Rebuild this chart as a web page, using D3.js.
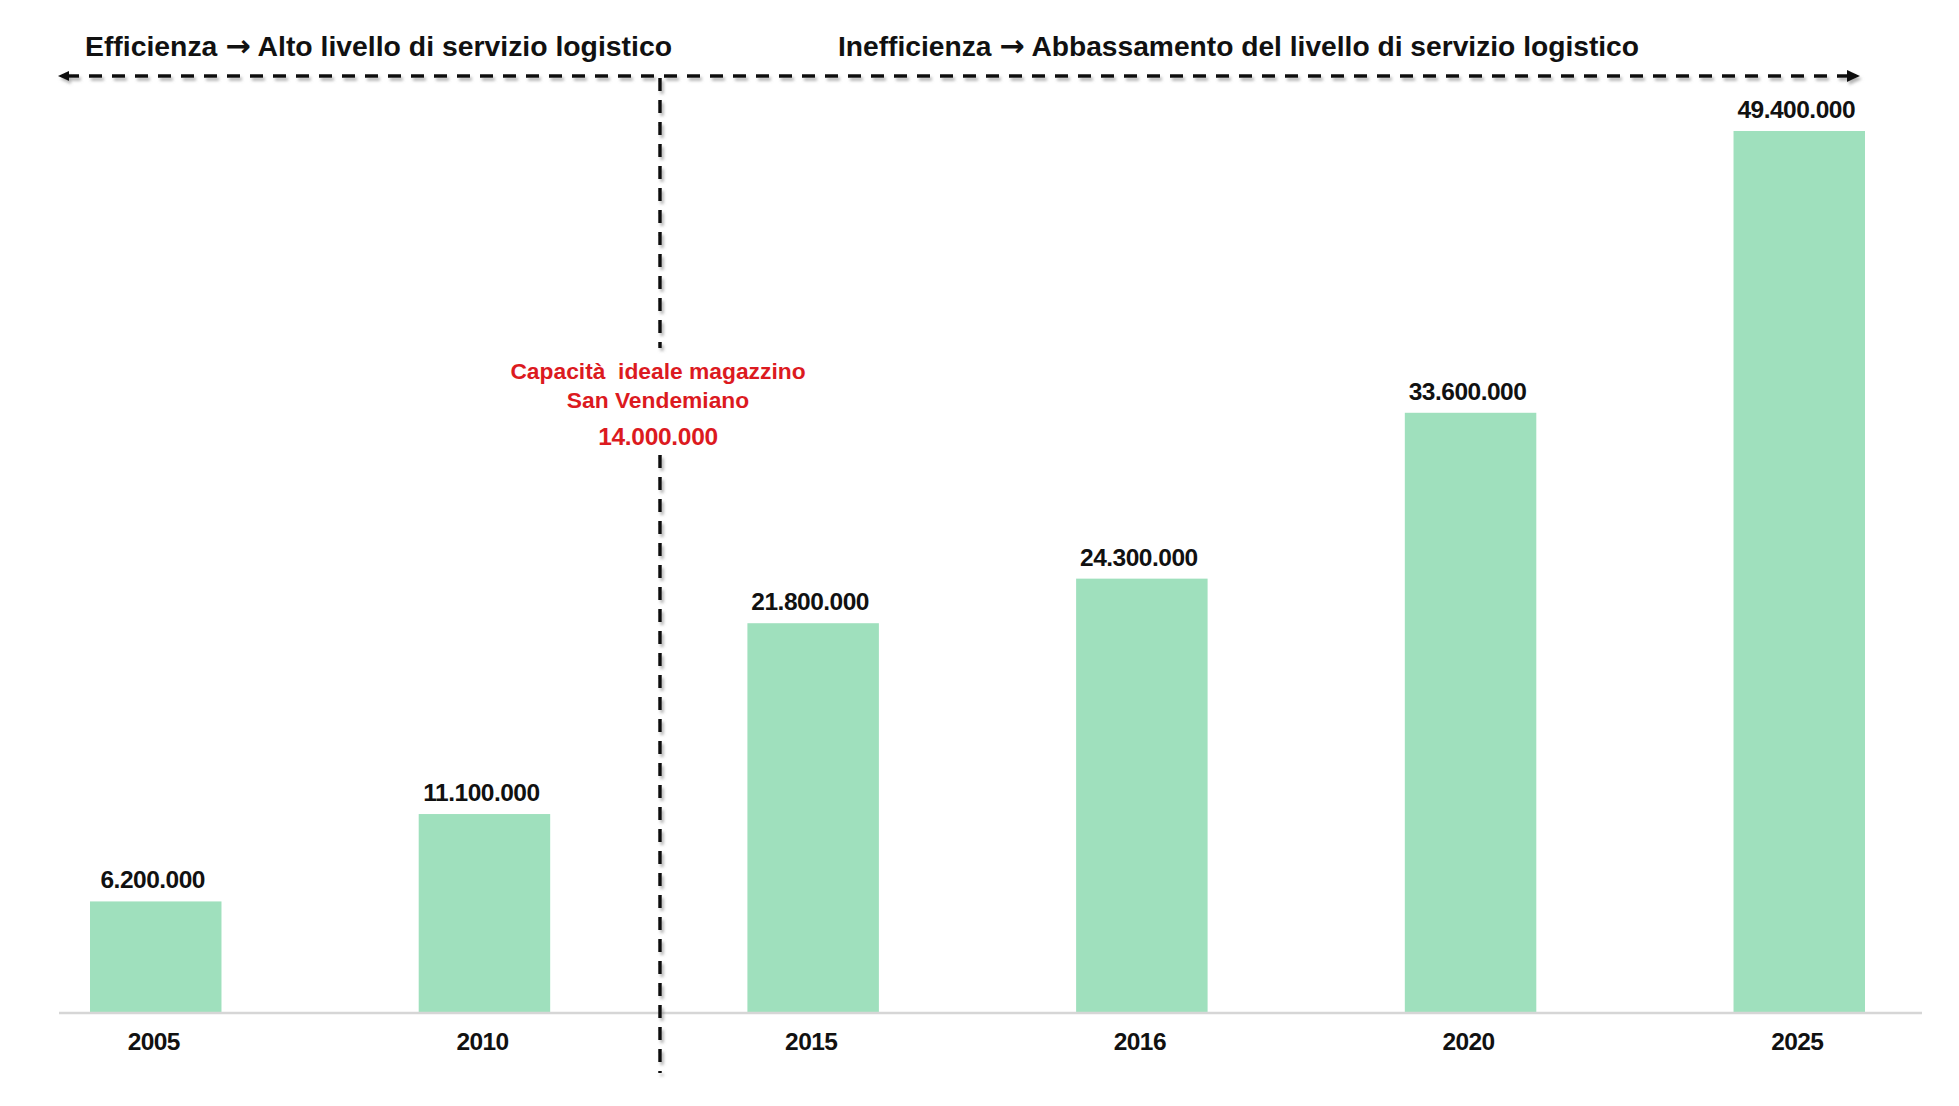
<!DOCTYPE html>
<html>
<head>
<meta charset="utf-8">
<script src="https://cdn.jsdelivr.net/npm/d3@7"></script>
<style>
html,body{margin:0;padding:0;background:#fff;}
svg{display:block;}
text{font-family:"Liberation Sans",Arial,Helvetica,sans-serif;font-weight:bold;}
</style>
</head>
<body>
<svg id="chart" width="1959" height="1106"></svg>
<script>
const years = ["2005","2010","2015","2016","2020","2025"];
const values = [6200000, 11100000, 21800000, 24300000, 33600000, 49400000];
const leftHeader = ["Efficienza ", "\u2192", " Alto livello di servizio logistico"];
const rightHeader = ["Inefficienza ", "\u2192", " Abbassamento del livello di servizio logistico"];
const capacityLines = ["Capacità  ideale magazzino", "San Vendemiano"];
const capacityValue = 14000000;

const svg = d3.select("#chart");
const loc = d3.formatLocale({decimal: ",", thousands: ".", grouping: [3], currency: ["€", ""]});
const fmt = loc.format(",d");

const baseY = 1012;
const x = d3.scaleBand().domain(years).range([90, 1865]).paddingInner(0.6).paddingOuter(0);
const y = d3.scaleLinear().domain([0, d3.max(values)]).range([baseY, 131]);

const defs = svg.append("defs");
const f = defs.append("filter").attr("id","sh").attr("x","-50%").attr("y","-50%").attr("width","200%").attr("height","200%");
f.append("feDropShadow").attr("dx",2).attr("dy",3).attr("stdDeviation",1.8).attr("flood-color","#777").attr("flood-opacity",0.55);

// bars
svg.append("g").selectAll("rect").data(years).join("rect")
  .attr("x", d => x(d))
  .attr("width", x.bandwidth())
  .attr("y", (d,i) => y(values[i]))
  .attr("height", (d,i) => baseY - y(values[i]))
  .attr("fill", "#9fe0bd");

// baseline axis
svg.append("line").attr("x1",59).attr("x2",1922).attr("y1",baseY+1).attr("y2",baseY+1)
  .attr("stroke","#d6d6d6").attr("stroke-width",2.5);

// value labels
svg.append("g").selectAll("text").data(years).join("text")
  .attr("x", d => x(d) + x.bandwidth()/2 - 3)
  .attr("y", (d,i) => y(values[i]) - 13)
  .attr("text-anchor","middle")
  .attr("font-size", 24.5)
  .attr("letter-spacing", -0.5)
  .attr("fill","#111")
  .text((d,i) => fmt(values[i]));

// year labels (x axis)
const xAxis = d3.axisBottom(x).tickSize(0).tickPadding(0);
const gx = svg.append("g").attr("transform", `translate(0,${baseY})`).call(xAxis);
gx.select(".domain").remove();
gx.selectAll("text")
  .attr("y", 38).attr("dy", 0)
  .attr("font-size", 24.5)
  .attr("letter-spacing", -0.6)
  .attr("fill","#111")
  .style("font-family","'Liberation Sans',Arial,sans-serif")
  .style("font-weight","bold");
gx.selectAll(".tick").attr("transform", d => `translate(${x(d) + x.bandwidth()/2 - 2},0)`);

// dashed lines
const dashG = svg.append("g").attr("filter","url(#sh)");
const midX = 660;
dashG.append("line").attr("x1",66).attr("x2",1850).attr("y1",76).attr("y2",76)
  .attr("stroke","#111").attr("stroke-width",3.5).attr("stroke-dasharray","13,10");
dashG.append("path").attr("d","M58,76 L69,71 L69,81 Z").attr("fill","#111");
dashG.append("path").attr("d","M1860,76 L1847,70 L1847,82 Z").attr("fill","#111");
dashG.append("line").attr("x1",midX).attr("x2",midX).attr("y1",78).attr("y2",348)
  .attr("stroke","#111").attr("stroke-width",3.5).attr("stroke-dasharray","13,9");
dashG.append("line").attr("x1",midX).attr("x2",midX).attr("y1",455).attr("y2",1073)
  .attr("stroke","#111").attr("stroke-width",3.5).attr("stroke-dasharray","13,9");

// headers
function header(parts, x0, len) {
  const t = svg.append("text").attr("x", x0).attr("y", 56).attr("font-size", 28)
    .attr("textLength", len).attr("lengthAdjust", "spacingAndGlyphs")
    .attr("fill", "#111").attr("xml:space","preserve");
  t.append("tspan").text(parts[0]);
  t.append("tspan").style("font-family","'DejaVu Sans',sans-serif").attr("font-size",30).text(parts[1]);
  t.append("tspan").text(parts[2]);
}
header(leftHeader, 85, 587);
header(rightHeader, 838, 801);

// capacity annotation
const red = "#dc1a1f";
svg.append("text").attr("x",658).attr("y",379).attr("text-anchor","middle")
  .attr("font-size",22.8).attr("fill",red).attr("xml:space","preserve").text(capacityLines[0]);
svg.append("text").attr("x",658).attr("y",408).attr("text-anchor","middle")
  .attr("font-size",22.8).attr("fill",red).text(capacityLines[1]);
svg.append("text").attr("x",658).attr("y",445).attr("text-anchor","middle")
  .attr("font-size",24.5).attr("letter-spacing",-0.3).attr("fill",red).text(fmt(capacityValue));
</script>
</body>
</html>
